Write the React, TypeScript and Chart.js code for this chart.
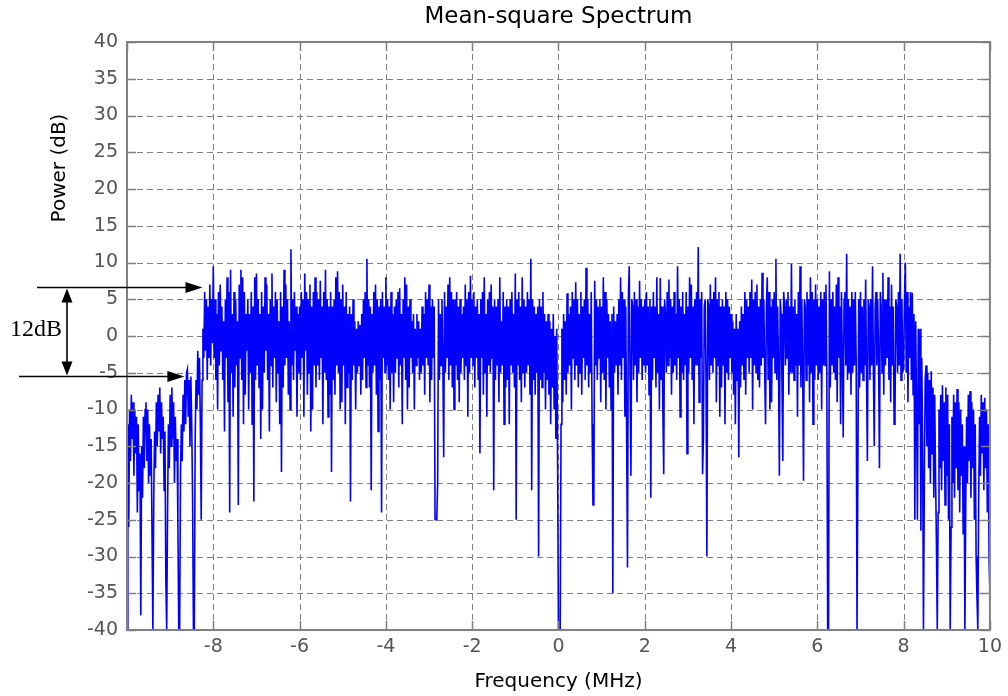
import { useEffect, useRef } from "react";
import { Chart, registerables } from "chart.js";

Chart.register(...registerables);

// Spectrum bins: 0.02 MHz spacing, one array per 2 MHz band.
const BIN_STEP_MHZ = 0.02;
const BAND_STARTS_MHZ = [-10, -8, -6, -4, -2, 0, 2, 4, 6, 8];

// Power in dB, one value per bin.
const powerM10 = [
  -40, -12, -26, -10, -17, -8, -14, -9, -19, -10,
  -16, -11, -24, -12, -21, -16, -38, -15, -22, -11,
  -18, -10, -9, -17, -10, -20, -12, -19, -14, -27,
  -40, -22, -13, -18, -9, -15, -8, -13, -7, -16,
  -9, -14, -11, -21, -13, -33, -40, -24, -12, -18,
  -8, -15, -7, -14, -9, -20, -11, -17, -14, -26,
  -40, -40, -19, -12, -17, -8, -13, -6, -12, -5,
  -4.5, -11, -6, -15, -5.5, -12, -22, -40, -40, -14,
  -6, -10, -2, -8, -3, -12, -25, -6, 1, -3,
  6, -2, 5, -6, 4, -3, 7, -4, 5, -1,
];
const powerM8 = [
  9.5, -3, 5, -6, 3, -10, 6, -4, 7, -2,
  4, -6, 2, -13, 5, -3, 8, -9, 6, -24,
  9, -5, 3, -11, 6, -7, 5, -4, 2, -23,
  7, -3, 9, -6, 8, -12, 6, -8, 3, -2,
  5, -10, 3, -5, 6, -12, 4, -22.5, 8, -6,
  8.5, -4, 5, -7, 3, -14, 6, -10, 4, -5,
  8, -2, 7, -6, 3, -13, 5, -4, 8.5, -7,
  4, -3, 6, -9, 5, -5, 2, -12, 6, -18.5,
  4, -7, 9, -4, 7, -3, 5, -8, 2, -10,
  11.8, -4, 5, -6, 6, -2, 4, -11, 3, -5,
];
const powerM6 = [
  4, -6, 6, -3, 5, -11, 8.5, -2, 6, -8,
  5, -5, 7, -13, 4, -10, 6, -4, 8, -7,
  6, -4, 5, -6, 7.5, -3, 4, -12, 6, -5,
  9, -6, 5, -11, 4, -8, 6, -18.5, 4, -6,
  5, -8, 8, -4, 8.8, -5, 6, -10, 5, -9,
  7, -4, 4, -12, 6, -7, 3, -5, 4, -22.5,
  3, -6, 5, -4, 2, -10, 1, -5, 2, -4,
  1.5, -8, 3, -6, 5, -3, 6, -7, 10.5, -4,
  5, -7, 4, -21, 3, -5, 6, -4, 7, -8,
  5, -13, 4, -6, 5, -24, 6, -3, 4, -5,
];
const powerM4 = [
  8, -4, 5, -6, 4, -10, 6, -5, 3, -9,
  4, -5, 5, -3, 6, -7, 6.5, -4, 3, -12,
  5, -3, 8, -6, 7, -10, 4, -7, 5, -3,
  2, -5, 3, -10, 1, -4, 3, -3, 2, -6,
  1, -5, 4, -4, 3, -8, 6, -3, 5, -4,
  7, -9, 4, -6, 5, -3, 4, -25, -25, -25,
  -20, 5, -6, 3, -4, 5, -3, -16.5, 6, -5,
  4, -3, 7, -6, 8, -4, 6, -7, 5, -10,
  5, -4, 6, -6, 4, -9, 5, -5, 3, -3,
  4, -6, 7, -4, 5, -11, 6, -5, 8.2, -3,
];
const powerM2 = [
  5, -4, 6, -7, 4, -3, 5, -6, 3, -16,
  5, -3, 6, -8, 8, -5, 3, -11, 5, -4,
  6, -5, 7, -3, 4, -21, 5, -6, 4, -4,
  5, -9, 8, -5, 2, -4, 6, -12, 4, -7,
  5, -6, 4, -12, 5, -4, 6, -5, 3, -7,
  8.5, -25, 5, -4, 6, -6, 4, -9, 8, -5,
  5, -7, 4, -5, 6, -4, 5, -8, 10.5, -21,
  5, -6, 4, -8, 3, -5, 4, -30, 5, -6,
  4, -7, 6, -5, 3, -10, 2, -6, 3, -8,
  2, -12, 1, -7, 3, -10, 0, -14, 1, -17,
];
const powerP0 = [
  -40, -40, -40, -12, 1, -9, 3, -6, 2, -8,
  5.8, -5, 3, -4, 4, -10, 6, -3, 5, -6,
  7.3, -4, 5, -7, 3, -5, 6, -8, 4, -3,
  5, -6, 9.3, -4, 5, -7, 3, -5, 6, -12,
  -23, -23, 7.5, -4, 5, -6, 4, -3, 5, -9,
  4, -5, 8, -6, 6, -10, 5, -3, 3, -7,
  2, -10, 3, -35, 4, -5, 2, -4, 3, -8,
  5, -4, 8, -6, 6, -3, 5, -11, 4, -13,
  -31.5, 5, 9.5, -6, -19, 5, 4, -6, 6, -4,
  5, -9, 4, -5, 7.5, -3, 5, -6, 4, -4,
];
const powerP2 = [
  5, -5, 6, -4, 4, -8, 5, -22, 4, -6,
  6, -3, 4, -7, 8, -5, 3, -10, 7.9, -6,
  4, -10, -18.8, 5, 3, -5, 6, -4, 7.7, -3,
  5, -8, 4, -5, 6, -4, 3, -6, 9.5, -3,
  5, -11, 4, -5, 6, -6, 3, -4, 6, -16,
  4, -5, 8, -3, 7, -6, 4, -12, 5, -4,
  6, -4, 12.1, -9, 5, -3, 6, -18.8, -14, 4,
  5, -6, -30, 5, 4, -6, 7, -4, 5, -5,
  6, -3, 8, -9, 5, -4, 6, -11, 4, -7,
  5, -4, 4, -12, 6, -5, 5, -6, 4, -3,
];
const powerP4 = [
  3, -5, 2, -8, 1, -12, 3, -6, 1, -16.5,
  2, -7, 4, -4, 3, -6, 6, -8, 5, -3,
  4, -5, 6, -3, 7.7, -10, 5, -4, 6, -5,
  7, -6, 4, -7, 5, -4, 8.6, -3, 5, -5,
  -12, 4, 8, -6, 6, -10, 4, -9, 5, -3,
  6, -5, 10.5, -6, 4, -4, -19, 5, 3, -6,
  -17, 6, 4, -4, 5, -3, 6, -8, 4, -5,
  9.8, -5, 4, -6, 5, -4, 3, -11, 6, -4,
  9.5, -7, 5, -4, -19.7, 5, 4, -6, 6, -4,
  5, -9, 8, -5, 6, -12, 5, -6, 7, -4,
];
const powerP6 = [
  5, -6, 4, -5, 6, -10, 5, -4, 6, -4,
  7, -5, -40, -40, 8.8, -7, 5, -4, 6, -5,
  4, -6, 7, -9, 8, -3, 4, -12, 6, -3,
  -13.8, 5, 6, -4, 11.2, -6, 5, -5, 4, -8,
  6, -5, 5, -4, 6, -3, -40, -40, 5, -7,
  6, -5, 4, -6, 5, -4, 7.7, -5, -17, 5,
  4, -6, 5, -4, 9.5, -5, -15, 4, 6, -4,
  5, -3, -18, 6, 4, -5, 8.6, -8, 5, -4,
  5, -3, 8, -6, 4, -9, 7, -4, 4, -12,
  -11, 5, 4, -5, 6, -4, 11.2, -6, 5, -5,
];
const powerP8 = [
  -4, 5, 10, -5, 6, -9, 4, -3, 6, -6,
  5.9, -8, 3, -25, 2, -10, -25, 1, -12, 1,
  -26.5, -3, -14, -40, -20, -6, -4, -15, -5, -18,
  -6, -20, -4.8, -16, -7, -22, -8, -19, -28, -40,
  -24, -10, -18, -8, -21, -6.7, -17, -9, -23, -7,
  -19, -8, -25, -12, -40, -26, -11, -20, -8, -22,
  -9, -18, -7.2, -21, -9, -24, -10, -19, -12, -27,
  -15, -40, -23, -11, -20, -8, -17, -7.5, -22, -9,
  -18, -10, -25, -12, -30, -35.5, -40, -22, -11, -19,
  -8, -16, -9, -21, -8.4, -18, -10, -24, -12, -30,
  -35,
];
const POWER_BANDS = [powerM10, powerM8, powerM6, powerM4, powerM2, powerP0, powerP2, powerP4, powerP6, powerP8];

// Axis ranges and ticks
const X_MIN = -10;
const X_MAX = 10;
const X_STEP = 2;
const Y_MIN = -40;
const Y_MAX = 40;
const Y_STEP = 5;

// Text
const TITLE = "Mean-square Spectrum";
const X_LABEL = "Frequency (MHz)";
const Y_LABEL = "Power (dB)";
const SPAN_LABEL = "12dB";

// Annotation: span between the two reference levels, and where each arrow points (MHz)
const SPAN_DB = 12;
const UPPER_LEVEL_DB = 6.6;
const UPPER_ARROW_MHZ = -8.25;
const LOWER_ARROW_MHZ = -8.67;

const SANS = '"DejaVu Sans", "Liberation Sans", Arial, sans-serif';
const SERIF = '"Liberation Serif", "DejaVu Serif", "Times New Roman", serif';
const AXIS_GRAY = "#808080";
const TICK_TEXT = "#555555";

function buildPoints() {
  const pts: { x: number; y: number }[] = [];
  POWER_BANDS.forEach((band, b) => {
    band.forEach((p, j) => {
      pts.push({ x: +(BAND_STARTS_MHZ[b] + j * BIN_STEP_MHZ).toFixed(2), y: p });
    });
  });
  return pts;
}

function tickValues(min: number, max: number, step: number) {
  const out: number[] = [];
  for (let v = min; v <= max + 1e-9; v += step) out.push(v);
  return out;
}

function arrowHead(ctx: CanvasRenderingContext2D, tipX: number, tipY: number, dir: "right" | "up" | "down") {
  const len = dir === "right" ? 17 : 14;
  const half = 5.5;
  ctx.beginPath();
  ctx.moveTo(tipX, tipY);
  if (dir === "right") {
    ctx.lineTo(tipX - len, tipY - half);
    ctx.lineTo(tipX - len, tipY + half);
  } else if (dir === "up") {
    ctx.lineTo(tipX - half, tipY + len);
    ctx.lineTo(tipX + half, tipY + len);
  } else {
    ctx.lineTo(tipX - half, tipY - len);
    ctx.lineTo(tipX + half, tipY - len);
  }
  ctx.closePath();
  ctx.fill();
}

// Dashed grid under the trace; box and inward tick marks over it
const framePlugin = {
  id: "frame",
  beforeDatasetsDraw(chart: any) {
    const { ctx, chartArea: a, scales } = chart;
    const xs = scales.x;
    const ys = scales.y;
    ctx.save();
    ctx.strokeStyle = AXIS_GRAY;
    ctx.lineWidth = 1;
    ctx.setLineDash([6, 4]);
    tickValues(X_MIN, X_MAX, X_STEP).forEach((v) => {
      if (v === X_MIN || v === X_MAX) return;
      const px = Math.round(xs.getPixelForValue(v)) + 0.5;
      ctx.beginPath();
      ctx.moveTo(px, a.bottom);
      ctx.lineTo(px, a.top);
      ctx.stroke();
    });
    tickValues(Y_MIN, Y_MAX, Y_STEP).forEach((v) => {
      if (v === Y_MIN || v === Y_MAX) return;
      const py = Math.round(ys.getPixelForValue(v)) + 0.5;
      ctx.beginPath();
      ctx.moveTo(a.left, py);
      ctx.lineTo(a.right, py);
      ctx.stroke();
    });
    ctx.restore();
  },
  afterDatasetsDraw(chart: any) {
    const { ctx, chartArea: a, scales } = chart;
    const xs = scales.x;
    const ys = scales.y;
    ctx.save();
    ctx.strokeStyle = AXIS_GRAY;
    ctx.lineWidth = 1.5;
    const tl = 9;
    tickValues(X_MIN, X_MAX, X_STEP).forEach((v) => {
      const px = Math.round(xs.getPixelForValue(v)) + 0.5;
      ctx.beginPath();
      ctx.moveTo(px, a.bottom);
      ctx.lineTo(px, a.bottom - tl);
      ctx.moveTo(px, a.top);
      ctx.lineTo(px, a.top + tl);
      ctx.stroke();
    });
    tickValues(Y_MIN, Y_MAX, Y_STEP).forEach((v) => {
      const py = Math.round(ys.getPixelForValue(v)) + 0.5;
      ctx.beginPath();
      ctx.moveTo(a.left, py);
      ctx.lineTo(a.left + tl, py);
      ctx.moveTo(a.right, py);
      ctx.lineTo(a.right - tl, py);
      ctx.stroke();
    });
    ctx.lineWidth = 2;
    ctx.strokeRect(a.left, a.top, a.right - a.left, a.bottom - a.top);
    ctx.restore();
  },
  afterDraw(chart: any) {
    const { ctx, chartArea: a, scales } = chart;
    const xs = scales.x;
    const ys = scales.y;
    ctx.save();
    ctx.fillStyle = "#000";
    ctx.textBaseline = "alphabetic";
    ctx.textAlign = "center";

    ctx.font = `23px ${SANS}`;
    ctx.fillText(TITLE, (a.left + a.right) / 2, 23);

    ctx.font = `20px ${SANS}`;
    ctx.fillText(X_LABEL, (a.left + a.right) / 2, 687);

    ctx.save();
    ctx.translate(65, 168);
    ctx.rotate(-Math.PI / 2);
    ctx.fillText(Y_LABEL, 0, 0);
    ctx.restore();

    // 12 dB span marker
    const upperY = Math.round(ys.getPixelForValue(UPPER_LEVEL_DB)) + 0.5;
    const lowerY = Math.round(ys.getPixelForValue(UPPER_LEVEL_DB - SPAN_DB)) + 0.5;
    const upperTip = xs.getPixelForValue(UPPER_ARROW_MHZ);
    const lowerTip = xs.getPixelForValue(LOWER_ARROW_MHZ);
    const vx = 67;
    ctx.strokeStyle = "#000";
    ctx.lineWidth = 1.6;
    ctx.beginPath();
    ctx.moveTo(37, upperY);
    ctx.lineTo(upperTip - 10, upperY);
    ctx.moveTo(19, lowerY);
    ctx.lineTo(lowerTip - 10, lowerY);
    ctx.moveTo(vx, upperY + 8);
    ctx.lineTo(vx, lowerY - 8);
    ctx.stroke();
    arrowHead(ctx, upperTip, upperY, "right");
    arrowHead(ctx, lowerTip, lowerY, "right");
    arrowHead(ctx, vx, upperY + 1, "up");
    arrowHead(ctx, vx, lowerY - 1, "down");

    ctx.textAlign = "left";
    ctx.font = `24px ${SERIF}`;
    ctx.fillText(SPAN_LABEL, 10, (upperY + lowerY) / 2 + 4);
    ctx.restore();
  },
};

export default function App() {
  const canvasRef = useRef<HTMLCanvasElement | null>(null);

  useEffect(() => {
    const canvas = canvasRef.current;
    if (!canvas) return;
    const chart = new Chart(canvas, {
      type: "line",
      data: {
        datasets: [
          {
            data: buildPoints(),
            borderColor: "#0000ff",
            borderWidth: 1.6,
            pointRadius: 0,
            tension: 0,
            fill: false,
          },
        ],
      },
      options: {
        responsive: false,
        animation: false,
        devicePixelRatio: 1,
        events: [],
        layout: { padding: { top: 42, right: 12, left: 0, bottom: 0 } },
        plugins: {
          legend: { display: false },
          tooltip: { enabled: false },
          title: { display: false },
        },
        scales: {
          x: {
            type: "linear",
            min: X_MIN,
            max: X_MAX,
            grid: { display: false, drawTicks: false },
            border: { display: false },
            afterFit: (s: any) => {
              s.height = 66;
            },
            ticks: {
              stepSize: X_STEP,
              padding: 6,
              color: TICK_TEXT,
              font: { family: SANS, size: 19 },
              maxRotation: 0,
              autoSkip: false,
              callback: (v: any) => (Number(v) === X_MIN ? "" : String(v)),
            },
          },
          y: {
            type: "linear",
            min: Y_MIN,
            max: Y_MAX,
            grid: { display: false, drawTicks: false },
            border: { display: false },
            afterFit: (s: any) => {
              s.width = 127;
            },
            ticks: {
              stepSize: Y_STEP,
              padding: 9,
              color: TICK_TEXT,
              font: { family: SANS, size: 19 },
              autoSkip: false,
            },
          },
        },
      },
      plugins: [framePlugin],
    });
    return () => chart.destroy();
  }, []);

  return (
    <div style={{ position: "absolute", left: 0, top: 0, width: 1008, height: 696, background: "#fff" }}>
      <canvas ref={canvasRef} width={1008} height={696} style={{ display: "block", width: 1008, height: 696 }} />
    </div>
  );
}
